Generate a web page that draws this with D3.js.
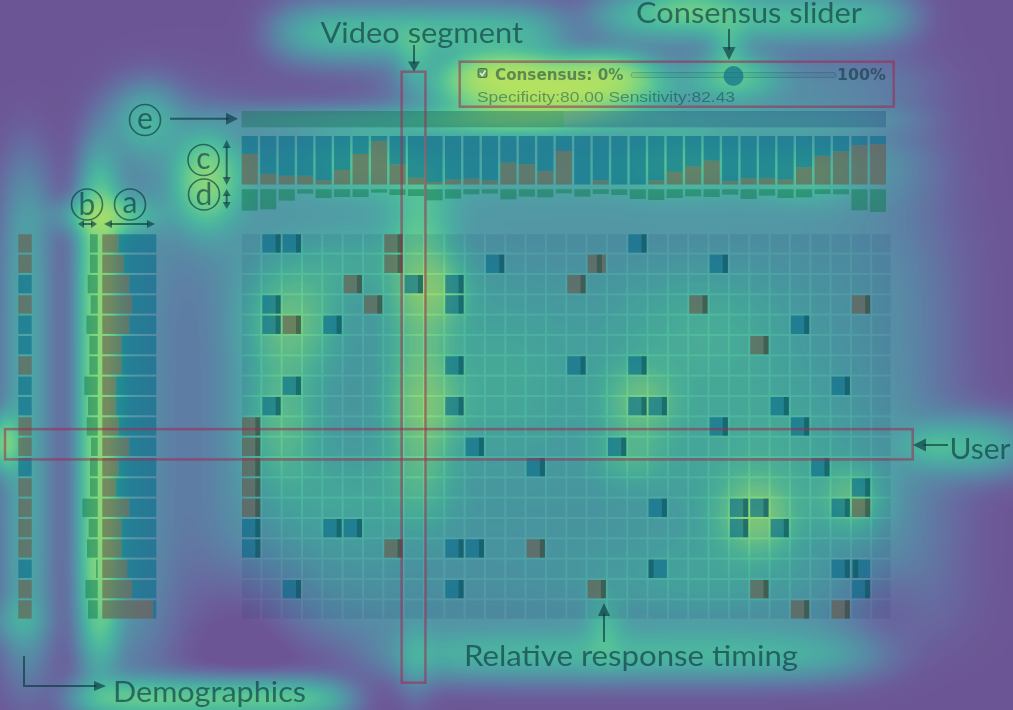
<!DOCTYPE html>
<html>
<head>
<meta charset="utf-8">
<script src="https://cdn.jsdelivr.net/npm/d3@7"></script>
<style>
html, body { margin: 0; padding: 0; background: #fff; }
#wrap { position: relative; width: 1013px; height: 710px; overflow: hidden; }
#wrap canvas, #wrap svg { position: absolute; left: 0; top: 0; }
</style>
</head>
<body>
<div id="wrap">
  <canvas id="heat" width="1013" height="710"></canvas>
  <svg id="chart" width="1013" height="710"></svg>
</div>
<script>
'use strict';
(() => {

// rows = users, columns = video segments, top bars = clips
var users = d3.range(19);
var segments = d3.range(32);
var clips = d3.range(35);

// [user, segment, kind, timing]  kind B = blue answer, G = grey answer
var responses = [
  [0,1,'B',1],[0,2,'B',1],[0,7,'G',1],[0,19,'B',1],
  [1,7,'G',1],[1,12,'B',1],[1,17,'G',0.7],[1,23,'B',1],
  [2,5,'G',1],[2,8,'B',1],[2,10,'B',1],[2,16,'G',1],
  [3,1,'B',1],[3,6,'G',1],[3,10,'B',1],[3,22,'G',1],[3,30,'G',1],
  [4,1,'B',1],[4,2,'G',1],[4,4,'B',1],[4,27,'B',1],
  [5,25,'G',1],
  [6,10,'B',1],[6,16,'B',1],[6,19,'B',1],
  [7,2,'B',1],[7,29,'B',1],
  [8,1,'B',1],[8,10,'B',1],[8,19,'B',1],[8,20,'B',1],[8,26,'B',1],
  [9,0,'G',1],[9,23,'B',1],[9,27,'B',1],
  [10,0,'G',1],[10,11,'B',1],[10,18,'B',1],
  [11,0,'G',1],[11,14,'B',1],[11,28,'B',1],
  [12,0,'G',1],[12,30,'B',1],
  [13,0,'G',1],[13,20,'B',1],[13,24,'B',1],[13,25,'B',1],[13,29,'B',1],[13,30,'G',1],
  [14,0,'B',1],[14,4,'B',1],[14,5,'B',1],[14,24,'B',1],[14,26,'B',1],
  [15,0,'B',1],[15,7,'G',1],[15,10,'B',1],[15,11,'B',1],[15,14,'G',1],
  [16,20,'B',0],[16,29,'B',1],[16,30,'B',0.1],
  [17,2,'B',1],[17,10,'B',1],[17,17,'G',1],[17,25,'G',1],[17,30,'B',1],
  [18,27,'G',1],[18,29,'G',1]
];

// demographics per user
var gender = ['G','G','B','G','B','B','G','B','B','G','G','B','G','G','G','G','B','G','G'];
var ageBar = [7.7,7.7,10,7,11.3,8.3,8.3,13.3,9.7,11,6.7,7.7,7.7,15.3,9,10.7,1.7,12.3,9.7];
var expShare = [0.30,0.40,0.50,0.55,0.50,0.36,0.36,0.25,0.25,0.30,0.50,0.30,0.25,0.50,0.36,0.36,0.46,0.55,0.94];

// per clip summaries
var clipAgree = [0.63,0.22,0.18,0.18,0.09,0.30,0.63,0.90,0.41,0.14,0.05,0.10,0.12,0.08,0.45,0.42,0.28,0.69,0,0.08,0,0,0.08,0.26,0.37,0.49,0.07,0.13,0.13,0.10,0.35,0.59,0.68,0.81,0.83];
var clipSpread = [21.3,20,11.3,4.3,8.7,7.7,7.7,3.3,5.7,6.7,11,9.3,5,4.3,10,7.3,8,4,7.3,4.7,5.7,9.7,10.7,8.7,7,7.7,5.3,9.7,6.3,8.7,8,4.7,5,21,22.7];

var playProgress = 0.5;
var sliderValue = 50;
var specificity = '80.00';
var sensitivity = '82.43';
var videoSegment = 8;
var selectedUser = 10;

// gaze fixations of the attention map: [x, y, spreadX, spreadY, weight, powX, powY]
var fixations = [
  // annotation labels
  [420,32,100,20,1.0,3,1],[750,16,110,18,1.0,3,1],[690,5,30,12,0.6],[728,45,12,18,0.5],[414,58,12,18,0.5],
  [975,445,42,20,0.85],[930,445,18,12,0.3],
  [630,655,170,18,0.8,3,1],[604,625,12,22,0.45],[210,698,95,14,1.3,3,1],[415,660,12,28,0.3],
  // consensus panel
  [540,88,60,18,3.0],[495,72,30,12,1.2],[610,74,30,15,1.2],[735,75,28,16,0.9],[680,85,170,22,0.35,3,1],
  // timeline and clip bars
  [145,120,25,25,0.8],[565,119,240,10,0.4,4,1],[500,120,60,10,0.6],
  [205,180,20,30,1.4],[200,185,45,50,0.3],[565,168,250,32,0.7,4,1],
  [365,160,40,22,0.5],[680,160,40,22,0.5],[805,172,35,20,0.45],
  // demographics
  [105,215,30,12,1.0],[98,410,14,175,1.7,1,3],[25,420,18,180,0.7,1,3],[130,420,30,180,0.45,1,3],
  [4,442,10,18,1.3],[15,620,20,15,0.3],
  // response grid
  [565,424,260,152,0.6,4,4],[420,345,22,120,0.8,1,3],
  [290,320,30,35,1.0],[280,420,25,45,0.8],[434,290,22,22,0.8],[428,405,22,25,0.5],
  [640,400,25,25,0.9],[756,515,25,25,1.2],[852,498,22,22,0.8],[630,455,25,20,0.5],
  [700,330,60,40,0.4],[500,380,60,60,0.35],[760,450,70,60,0.4],[340,500,50,40,0.3],
  [700,580,80,30,0.25],[350,260,50,25,0.35],
  [255,605,45,40,-0.3],[880,600,30,30,-0.25]
];

var W = +document.querySelector('svg').getAttribute('width');
var H = +document.querySelector('svg').getAttribute('height');

// ---- attention heat map ----
var fx = d3.scaleLinear().domain([0, 1013]).range([0, W]);
var fy = d3.scaleLinear().domain([0, 710]).range([0, H]);
var heatColor = d3.scaleSequential(t => d3.interpolateRgb(d3.interpolateViridis(t), '#fff')(0.2)).domain([-0.158, 1.158]);
var lut = d3.range(256).map(i => d3.rgb(heatColor(i / 255)));
var step = 2, cw = Math.ceil(W / step), ch = Math.ceil(H / step);
var off = document.createElement('canvas');
off.width = cw; off.height = ch;
var octx = off.getContext('2d');
var img = octx.createImageData(cw, ch);
var fs = fixations.map(f => [fx(f[0]), fy(f[1]), 2 * f[2] * f[2], 2 * f[3] * f[3], f[4], f[5] || 1, f[6] || 1]);
for (var j = 0; j < ch; j++) {
  for (var i = 0; i < cw; i++) {
    var px = i * step, py = j * step, s = 0;
    for (var k = 0; k < fs.length; k++) {
      var f = fs[k], dx = px - f[0], dy = py - f[1];
      var qx = dx * dx / f[2], qy = dy * dy / f[3];
      s += f[4] * Math.exp(-(f[5] === 1 ? qx : Math.pow(qx, f[5])) - (f[6] === 1 ? qy : Math.pow(qy, f[6])));
    }
    var c = lut[Math.min(255, Math.round((1 - Math.exp(-Math.max(0, s))) * 255))];
    var p = (j * cw + i) * 4;
    img.data[p] = c.r; img.data[p + 1] = c.g; img.data[p + 2] = c.b; img.data[p + 3] = 255;
  }
}
octx.putImageData(img, 0, 0);
var ctx = document.getElementById('heat').getContext('2d');
ctx.imageSmoothingEnabled = true;
ctx.drawImage(off, 0, 0, W, H);

// ---- chart ----
var svg = d3.select('svg');
var ink = '#08323c', inkOp = 0.62;
var blue = '#086a8a', grey = '#6a5a4a', green = '#0f7a4f', frame = '#a02850';

var x = d3.scaleBand().domain(segments).range([242, 890.5]).paddingInner(0.1);
var y = d3.scaleBand().domain(users).range([234.3, 618.6]).paddingInner(0.1);

var grid = svg.append('g');
grid.selectAll('rect').data(d3.cross(users, segments)).join('rect')
  .attr('x', d => x(d[1])).attr('y', d => y(d[0]))
  .attr('width', x.bandwidth()).attr('height', y.bandwidth())
  .attr('fill', '#1a3a70').attr('fill-opacity', 0.12);

var stripeW = 5;
var resp = svg.append('g').selectAll('g').data(responses).join('g')
  .attr('transform', d => `translate(${x(d[1])},${y(d[0])})`);
resp.append('rect')
  .attr('width', x.bandwidth()).attr('height', y.bandwidth())
  .attr('fill', d => d[2] === 'B' ? blue : grey).attr('fill-opacity', 0.6);
resp.append('rect')
  .attr('x', d => (x.bandwidth() - stripeW) * d[3]).attr('width', stripeW).attr('height', y.bandwidth())
  .attr('fill', '#063a30').attr('fill-opacity', 0.35);

// demographics
var demo = svg.append('g');
demo.selectAll('rect.gen').data(gender).join('rect').attr('class', 'gen')
  .attr('x', 18.3).attr('y', (d, i) => y(i)).attr('width', 13.4).attr('height', y.bandwidth())
  .attr('fill', d => d === 'B' ? blue : grey).attr('fill-opacity', 0.6);
var ageX = d3.scaleLinear().domain([0, 16]).range([97.7, 81.7]);
demo.selectAll('rect.age').data(ageBar).join('rect').attr('class', 'age')
  .attr('x', d => ageX(d)).attr('y', (d, i) => y(i)).attr('width', d => ageX(0) - ageX(d)).attr('height', y.bandwidth())
  .attr('fill', green).attr('fill-opacity', 0.5);
var expX = d3.scaleLinear().domain([0, 1]).range([102.3, 156.3]);
demo.selectAll('rect.expA').data(expShare).join('rect').attr('class', 'expA')
  .attr('x', expX(0)).attr('y', (d, i) => y(i)).attr('width', d => expX(d) - expX(0)).attr('height', y.bandwidth())
  .attr('fill', grey).attr('fill-opacity', 0.6);
demo.selectAll('rect.expB').data(expShare).join('rect').attr('class', 'expB')
  .attr('x', d => expX(d)).attr('y', (d, i) => y(i)).attr('width', d => expX(1) - expX(d)).attr('height', y.bandwidth())
  .attr('fill', blue).attr('fill-opacity', 0.6);

// clip bars
var xc = d3.scaleBand().domain(clips).range([241.7, 886]).paddingInner(0.13);
var yc = d3.scaleLinear().domain([0, 1]).range([184.5, 136]);
var yd = d3.scaleLinear().domain([0, 25]).range([189.3, 214.3]);
var top = svg.append('g');
top.selectAll('rect.cb').data(clipAgree).join('rect').attr('class', 'cb')
  .attr('x', (d, i) => xc(i)).attr('y', yc(1)).attr('width', xc.bandwidth()).attr('height', d => yc(d) - yc(1))
  .attr('fill', blue).attr('fill-opacity', 0.6);
top.selectAll('rect.cg').data(clipAgree).join('rect').attr('class', 'cg')
  .attr('x', (d, i) => xc(i)).attr('y', d => yc(d)).attr('width', xc.bandwidth()).attr('height', d => yc(0) - yc(d))
  .attr('fill', grey).attr('fill-opacity', 0.6);
top.selectAll('rect.cd').data(clipSpread).join('rect').attr('class', 'cd')
  .attr('x', (d, i) => xc(i)).attr('y', yd(0)).attr('width', xc.bandwidth()).attr('height', d => yd(d) - yd(0))
  .attr('fill', green).attr('fill-opacity', 0.5);

// timeline bar (e)
var xe = d3.scaleLinear().domain([0, 1]).range([241.7, 886]);
top.append('rect').attr('x', xe(0)).attr('y', 111).attr('width', xe(playProgress) - xe(0)).attr('height', 16.3)
  .attr('fill', '#1f6f5f').attr('fill-opacity', 0.45);
top.append('rect').attr('x', xe(playProgress)).attr('y', 111).attr('width', xe(1) - xe(playProgress)).attr('height', 16.3)
  .attr('fill', '#1f3f7f').attr('fill-opacity', 0.3);

// consensus panel
var panel = svg.append('g');
var xs = d3.scaleLinear().domain([0, 100]).range([631, 836]);
panel.append('rect').attr('x', 478).attr('y', 68.5).attr('width', 9).attr('height', 9).attr('rx', 1.5)
  .attr('fill', ink).attr('fill-opacity', 0.35).attr('stroke', ink).attr('stroke-opacity', 0.5);
panel.append('path').attr('d', 'M480,73 L482.3,75.5 L485.5,70.5').attr('fill', 'none')
  .attr('stroke', '#d8f0e0').attr('stroke-width', 1.6);
panel.append('text').attr('x', 495).attr('y', 79.5).attr('textLength', 128.5).attr('lengthAdjust', 'spacingAndGlyphs')
  .attr('font-family', 'DejaVu Sans').attr('font-weight', 'bold').attr('font-size', 15)
  .attr('fill', ink).attr('fill-opacity', 0.5).text('Consensus: 0%');
panel.append('rect').attr('x', xs(0)).attr('y', 72.5).attr('width', xs(100) - xs(0)).attr('height', 5).attr('rx', 2.5)
  .attr('fill', ink).attr('fill-opacity', 0.06).attr('stroke', ink).attr('stroke-opacity', 0.2);
panel.append('circle').attr('cx', xs(sliderValue)).attr('cy', 76).attr('r', 10)
  .attr('fill', '#0a6a90').attr('fill-opacity', 0.65);
panel.append('text').attr('x', 837).attr('y', 79.5).attr('textLength', 49).attr('lengthAdjust', 'spacingAndGlyphs')
  .attr('font-family', 'DejaVu Sans').attr('font-weight', 'bold').attr('font-size', 15)
  .attr('fill', ink).attr('fill-opacity', 0.55).text('100%');
panel.append('text').attr('x', 477).attr('y', 101.5).attr('textLength', 258).attr('lengthAdjust', 'spacingAndGlyphs')
  .attr('font-family', 'Liberation Sans').attr('font-size', 15)
  .attr('fill', ink).attr('fill-opacity', 0.45).text(`Specificity:${specificity} Sensitivity:${sensitivity}`);

// highlight frames
var frames = svg.append('g').attr('fill', 'none').attr('stroke', frame).attr('stroke-opacity', 0.55).attr('stroke-width', 2.5);
frames.append('rect').attr('x', 459.7).attr('y', 61.7).attr('width', 434).attr('height', 45);
frames.append('rect').attr('x', x(videoSegment) - 3).attr('y', 71.7).attr('width', x.bandwidth() + 5.5).attr('height', 611);
frames.append('rect').attr('x', 5).attr('y', y(selectedUser) - 8.5).attr('width', 907.7).attr('height', y.bandwidth() + 12);

// annotations
var ann = svg.append('g').attr('fill', ink).attr('fill-opacity', inkOp).attr('stroke', ink).attr('stroke-opacity', inkOp);

function head(g, x0, y0, ang, len, wid) {
  var ca = Math.cos(ang), sa = Math.sin(ang);
  var bx = x0 - ca * len, by = y0 - sa * len;
  g.append('path').attr('stroke', 'none')
    .attr('d', `M${x0},${y0}L${bx - sa * wid},${by + ca * wid}L${bx + sa * wid},${by - ca * wid}Z`);
}
function arrow(pts, len, wid, both) {
  var n = pts.length;
  var a1 = Math.atan2(pts[n - 1][1] - pts[n - 2][1], pts[n - 1][0] - pts[n - 2][0]);
  var a0 = Math.atan2(pts[0][1] - pts[1][1], pts[0][0] - pts[1][0]);
  var line = pts.map(p => p.slice());
  line[n - 1] = [pts[n - 1][0] - Math.cos(a1) * len * 0.8, pts[n - 1][1] - Math.sin(a1) * len * 0.8];
  if (both) line[0] = [pts[0][0] - Math.cos(a0) * len * 0.8, pts[0][1] - Math.sin(a0) * len * 0.8];
  ann.append('path').attr('fill', 'none').attr('stroke-width', 2).attr('d', d3.line()(line));
  head(ann, pts[n - 1][0], pts[n - 1][1], a1, len, wid);
  if (both) head(ann, pts[0][0], pts[0][1], a0, len, wid);
}
arrow([[170, 118.7], [238, 118.7]], 12, 6);
arrow([[226.7, 140], [226.7, 185]], 8, 4, true);
arrow([[226.7, 189], [226.7, 209]], 7, 4, true);
arrow([[78, 224], [97, 224]], 6, 4, true);
arrow([[104, 224], [155, 224]], 8, 4, true);
arrow([[414, 45], [414, 71.5]], 10, 6);
arrow([[729, 29], [729, 60]], 13, 6.5);
arrow([[948, 445], [913, 445]], 13, 6.5);
arrow([[604, 642], [604, 603]], 13, 6);
arrow([[24, 656], [24, 686], [106, 686]], 12, 5);

var labels = [
  {t: 'Video segment', x: 320.5, y: 42.5, w: 202.5},
  {t: 'Consensus slider', x: 636, y: 23, w: 226},
  {t: 'User', x: 949.5, y: 458.5, w: 61},
  {t: 'Relative response timing', x: 464, y: 665.5, w: 334},
  {t: 'Demographics', x: 113, y: 701.5, w: 193}
];
ann.selectAll('text.lab').data(labels).join('text').attr('class', 'lab')
  .attr('x', d => d.x).attr('y', d => d.y).attr('textLength', d => d.w).attr('lengthAdjust', 'spacingAndGlyphs')
  .attr('stroke', 'none').attr('font-family', 'Lato').attr('font-size', 29).text(d => d.t);

var marks = [
  {t: 'e', x: 145, y: 120}, {t: 'c', x: 203.5, y: 160}, {t: 'd', x: 204, y: 194.5},
  {t: 'b', x: 87, y: 204.5}, {t: 'a', x: 130, y: 204.5}
];
var mk = ann.selectAll('g.mk').data(marks).join('g').attr('class', 'mk')
  .attr('transform', d => `translate(${d.x},${d.y})`);
mk.append('circle').attr('r', 15.5).attr('fill', 'none').attr('stroke-width', 1.6);
mk.append('text').attr('text-anchor', 'middle').attr('y', d => /[bd]/.test(d.t) ? 10 : 8.5)
  .attr('stroke', 'none').attr('font-family', 'Lato').attr('font-size', 30).text(d => d.t);

})();
</script>
</body>
</html>
